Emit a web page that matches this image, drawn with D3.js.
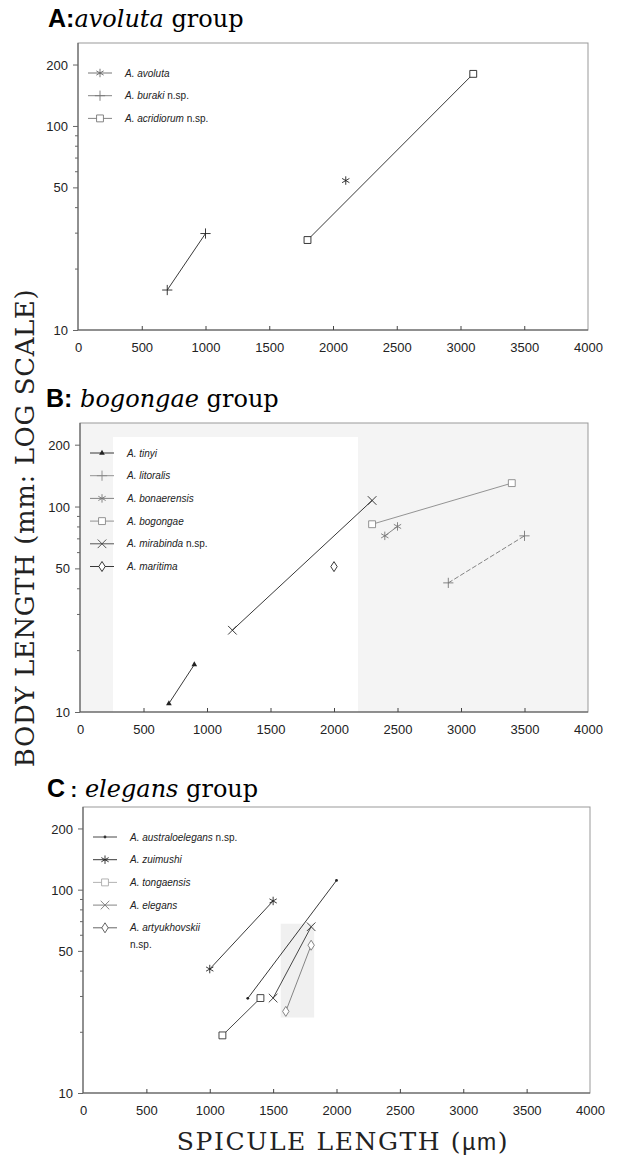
<!DOCTYPE html>
<html>
<head>
<meta charset="utf-8">
<script src="https://cdn.jsdelivr.net/npm/d3@7"></script>
<style>
  body { margin: 0; background: #fff; }
  svg { display: block; }
  .tick-label { font-family: "Liberation Sans", Arial, sans-serif; font-size: 13px; fill: #222; }
  .legend-label { font-family: "Liberation Sans", Arial, sans-serif; font-size: 10px; fill: #222; }
  .serif { font-family: "DejaVu Serif", "Liberation Serif", serif; }
</style>
</head>
<body>
<div id="chart"></div>
<script>
// Spicule length vs body length, three species groups

const spiculeTicks = [0, 500, 1000, 1500, 2000, 2500, 3000, 3500, 4000];
const bodyTickLabels = [10, 50, 100, 200];
const bodyTicks = [10, 20, 30, 40, 50, 60, 70, 80, 90, 100, 200];

// A: avoluta group
const seriesA = [
  { name: "A. avoluta", suffix: "", spicule: [2100], body: [54] },
  { name: "A. buraki", suffix: " n.sp.", spicule: [700, 1000], body: [15.7, 29.7] },
  { name: "A. acridiorum", suffix: " n.sp.", spicule: [1800, 3100], body: [27.6, 180] }
];

// B: bogongae group
const seriesB = [
  { name: "A. tinyi", suffix: "", spicule: [700, 900], body: [11, 17] },
  { name: "A. litoralis", suffix: "", spicule: [2900, 3500], body: [42.5, 72] },
  { name: "A. bonaerensis", suffix: "", spicule: [2400, 2500], body: [72, 80] },
  { name: "A. bogongae", suffix: "", spicule: [2300, 3400], body: [82, 130] },
  { name: "A. mirabinda", suffix: " n.sp.", spicule: [1200, 2300], body: [25, 107] },
  { name: "A. maritima", suffix: "", spicule: [2000], body: [51] }
];

// C: elegans group
const seriesC = [
  { name: "A. australoelegans", suffix: " n.sp.", spicule: [1300, 2000], body: [29.2, 111] },
  { name: "A. zuimushi", suffix: "", spicule: [1000, 1500], body: [40.7, 88] },
  { name: "A. tongaensis", suffix: "", spicule: [1100, 1400], body: [19.2, 29.3] },
  { name: "A. elegans", suffix: "", spicule: [1500, 1800], body: [29.3, 65.7] },
  { name: "A. artyukhovskii", suffix: "\nn.sp.", spicule: [1600, 1800], body: [25.2, 53.3] }
];

// marker / colour per series (same order as above)
const stylesA = [
  { marker: "asterisk", color: "#222", legend: "#666" },
  { marker: "plus", color: "#222", legend: "#777" },
  { marker: "square", color: "#222", legend: "#777" }
];
const stylesB = [
  { marker: "triangle", color: "#222", legend: "#222" },
  { marker: "plus", color: "#777", legend: "#888", dash: "5,2" },
  { marker: "asterisk", color: "#777", legend: "#777" },
  { marker: "square", color: "#888", legend: "#888" },
  { marker: "times", color: "#222", legend: "#444" },
  { marker: "diamond", color: "#222", legend: "#222" }
];
const stylesC = [
  { marker: "dot", color: "#222", legend: "#333" },
  { marker: "asterisk", color: "#222", legend: "#222" },
  { marker: "square", color: "#333", legend: "#aaa" },
  { marker: "times", color: "#333", legend: "#777" },
  { marker: "diamond", color: "#777", legend: "#555" }
];

const panels = [
  { letter: "A:", epithet: "avoluta", gap: "", series: seriesA, styles: stylesA,
    left: 78, right: 588, top: 43, bottom: 330, titleX: 48, titleY: 27 },
  { letter: "B:", epithet: "bogongae", gap: " ", series: seriesB, styles: stylesB,
    left: 80, right: 588, top: 423, bottom: 712, titleX: 46, titleY: 407,
    shade: true },
  { letter: "C", epithet: "elegans", gap: " ", colon: true, series: seriesC, styles: stylesC,
    left: 83, right: 590, top: 807, bottom: 1093, titleX: 47, titleY: 797 }
];

const width = 618, height = 1158;

const svg = d3.select("#chart").append("svg")
  .attr("width", width)
  .attr("height", height)
  .attr("viewBox", `0 0 ${width} ${height}`);

svg.append("rect").attr("width", width).attr("height", height).attr("fill", "#fff");

function drawMarker(g, type, x, y, color) {
  const sw = 0.9;
  if (type === "dot") {
    g.append("circle").attr("cx", x).attr("cy", y).attr("r", 1.4).attr("fill", color);
    return;
  }
  if (type === "triangle") {
    g.append("path").attr("transform", `translate(${x},${y})`)
      .attr("d", d3.symbol().type(d3.symbolTriangle).size(14)())
      .attr("fill", color);
    return;
  }
  if (type === "diamond") {
    g.append("path").attr("transform", `translate(${x},${y})`)
      .attr("d", "M0,-5L3.2,0L0,5L-3.2,0Z")
      .attr("fill", "#fff").attr("stroke", color).attr("stroke-width", sw);
    return;
  }
  const types = {
    asterisk: [d3.symbolAsterisk || d3.symbolCross, 50],
    plus: [d3.symbolPlus || d3.symbolCross, 36],
    times: [d3.symbolTimes || d3.symbolCross, 50],
    square: [d3.symbolSquare2 || d3.symbolSquare, 60]
  };
  const [sym, size] = types[type];
  g.append("path").attr("transform", `translate(${x},${y})`)
    .attr("d", d3.symbol().type(sym).size(size)())
    .attr("fill", type === "square" ? "#fff" : "none")
    .attr("stroke", color).attr("stroke-width", sw);
}

panels.forEach(p => {
  const g = svg.append("g");

  const x = d3.scaleLinear().domain([0, 4000]).range([p.left, p.right]);
  const y = d3.scaleLog().domain([10, 255]).range([p.bottom, p.top]);

  // scan shading
  if (p.shade) {
    g.append("rect").attr("x", p.left).attr("y", p.top)
      .attr("width", p.right - p.left).attr("height", p.bottom - p.top)
      .attr("fill", "#f4f4f4");
    g.append("rect").attr("x", 113).attr("y", 437)
      .attr("width", 245).attr("height", p.bottom - 437)
      .attr("fill", "#fff");
  }
  if (p.letter === "C") {
    g.append("rect").attr("x", x(1560)).attr("y", y(68))
      .attr("width", x(1800) - x(1560) + 3).attr("height", y(23.5) - y(68))
      .attr("fill", "#f0f0f0");
  }

  // title
  const title = g.append("text").attr("x", p.titleX).attr("y", p.titleY);
  title.append("tspan")
    .attr("font-family", "Liberation Sans, Arial, sans-serif")
    .attr("font-weight", "bold").attr("font-size", 25)
    .text(p.letter);
  if (p.colon) {
    title.append("tspan").attr("font-family", "Liberation Sans, Arial, sans-serif")
      .attr("font-weight", "bold").attr("font-size", 20).text(" :");
  }
  title.append("tspan").attr("class", "serif").attr("font-size", 24)
    .attr("font-style", "italic").text(p.gap + p.epithet);
  title.append("tspan").attr("class", "serif").attr("font-size", 24)
    .text(" group");

  // frame
  g.append("rect").attr("x", p.left).attr("y", p.top)
    .attr("width", p.right - p.left).attr("height", p.bottom - p.top)
    .attr("fill", "none").attr("stroke", "#999").attr("stroke-width", 1);
  g.append("path")
    .attr("d", `M${p.left},${p.top}V${p.bottom}H${p.right}`)
    .attr("fill", "none").attr("stroke", "#555").attr("stroke-width", 1);

  // x axis: ticks pointing inward, labels below
  const xAxis = d3.axisBottom(x).tickValues(spiculeTicks).tickSize(0).tickPadding(0)
    .tickFormat(d3.format("d"));
  const xg = g.append("g").attr("transform", `translate(0,${p.bottom})`).call(xAxis);
  xg.select(".domain").remove();
  xg.selectAll("text").attr("class", "tick-label").attr("dy", null).attr("y", 22)
    .attr("font-family", null).attr("font-size", null);
  xg.selectAll(".tick").filter(d => d > 0 && d < 4000).append("line")
    .attr("y1", 0).attr("y2", -4).attr("stroke", "#444");

  // y axis (log): ticks at every decade step, labels at 10, 50, 100, 200
  const yAxis = d3.axisLeft(y).tickValues(bodyTicks).tickSize(0).tickPadding(10)
    .tickFormat(d => bodyTickLabels.includes(d) ? d : "");
  const yg = g.append("g").attr("transform", `translate(${p.left},0)`).call(yAxis);
  yg.select(".domain").remove();
  yg.selectAll("text").attr("class", "tick-label").attr("dy", "0.35em")
    .attr("font-family", null).attr("font-size", null);
  yg.selectAll(".tick").append("line")
    .attr("x1", 0).attr("x2", d => bodyTickLabels.includes(d) ? -5 : -3)
    .attr("stroke", "#666");

  // data
  const line = d3.line().x(d => x(d[0])).y(d => y(d[1]));
  p.series.forEach((s, i) => {
    const st = p.styles[i];
    const pts = s.spicule.map((v, j) => [v, s.body[j]]);
    if (pts.length > 1) {
      g.append("path").datum(pts).attr("d", line)
        .attr("fill", "none").attr("stroke", st.color).attr("stroke-width", 0.9)
        .attr("stroke-dasharray", st.dash || null);
    }
    pts.forEach(d => drawMarker(g, st.marker, x(d[0]), y(d[1]), st.color));
  });

  // legend
  const lx = p.left + 10, ly0 = p.top + 30, step = 22.7;
  p.series.forEach((s, i) => {
    const st = p.styles[i];
    const ly = ly0 + i * step;
    g.append("line").attr("x1", lx).attr("x2", lx + 24).attr("y1", ly).attr("y2", ly)
      .attr("stroke", st.legend).attr("stroke-width", 0.9);
    drawMarker(g, st.marker, lx + 12, ly, st.legend);
    const parts = s.suffix.split("\n");
    const t = g.append("text").attr("class", "legend-label").attr("x", lx + 37).attr("y", ly + 3.5);
    t.append("tspan").attr("font-style", "italic").text(s.name);
    if (parts.length > 1) {
      t.append("tspan").attr("x", lx + 37).attr("dy", 17).text(parts[1]);
    } else {
      t.append("tspan").text(parts[0]);
    }
  });
});

// axis titles
svg.append("text").attr("class", "serif")
  .attr("transform", "translate(34,528) rotate(-90)")
  .attr("text-anchor", "middle").attr("font-size", 26).attr("letter-spacing", 0.6)
  .attr("fill", "#222")
  .text("BODY LENGTH (mm: LOG SCALE)");

const xt = svg.append("text").attr("class", "serif")
  .attr("x", 343).attr("y", 1150).attr("text-anchor", "middle")
  .attr("font-size", 25).attr("letter-spacing", 1.6).attr("fill", "#222");
xt.append("tspan").text("SPICULE LENGTH (");
xt.append("tspan").attr("font-family", "Liberation Sans, Arial, sans-serif").attr("font-size", 23).text("\u00b5m");
xt.append("tspan").text(")");
</script>
</body>
</html>
